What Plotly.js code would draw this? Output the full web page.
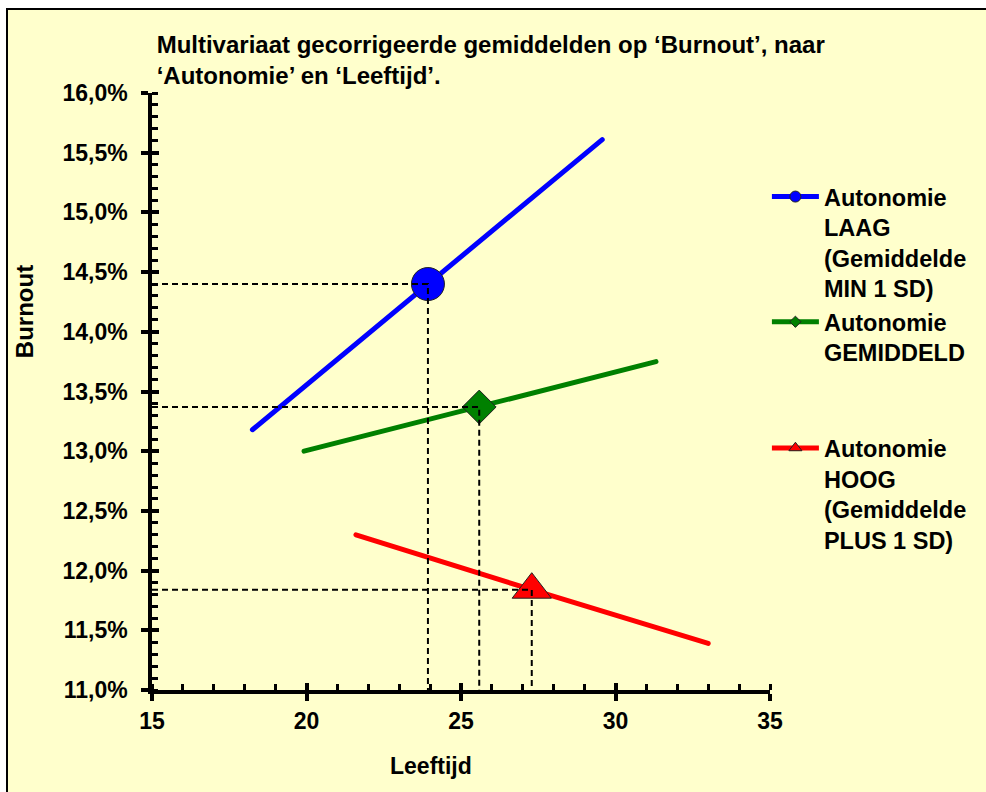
<!DOCTYPE html>
<html>
<head>
<meta charset="utf-8">
<script src="https://cdn.plot.ly/plotly-3.0.1.min.js"></script>
<style>
  html, body { margin: 0; padding: 0; background: #ffffff; width: 986px; height: 792px; overflow: hidden; }
  #frame { position: absolute; left: 6px; top: 8px; border-top: 2px solid #000; border-left: 2px solid #000; }
  #chart { width: 978px; height: 782px; }
  #chart .scatterlayer .trace:nth-child(-n+3) .js-line { stroke-linecap: round; }
</style>
</head>
<body>
<div id="frame"><div id="chart"></div></div>
<script>
// ---- data ----
const seriesNames = [
  'Autonomie<br>LAAG<br>(Gemiddelde<br>MIN 1 SD)',
  'Autonomie<br>GEMIDDELD',
  'Autonomie<br>HOOG<br>(Gemiddelde<br>PLUS 1 SD)'
];
// Leeftijd: line start, adjusted mean point, line end
const leeftijdLaag = [18.25, 23.93, 29.57];
const leeftijdGem  = [19.92, 25.59, 31.31];
const leeftijdHoog = [21.60, 27.29, 33.00];
// Burnout (%)
const burnoutLaag = [13.18, 14.40, 15.61];
const burnoutGem  = [13.00, 13.37, 13.75];
const burnoutHoog = [12.30, 11.84, 11.39];
const colors  = ['#0000ff', '#008000', '#ff0000'];
const symbols = ['circle', 'diamond', 'triangle-up'];
const markerSizes = [33, 26, 34];
const xRange = [15, 35];
const yRange = [11, 16];
const titleText = 'Multivariaat gecorrigeerde gemiddelden op ‘Burnout’, naar<br>‘Autonomie’ en ‘Leeftijd’.';

const FONT = 'Liberation Sans, Arial, Helvetica, sans-serif';
const xs = [leeftijdLaag, leeftijdGem, leeftijdHoog];
const ys = [burnoutLaag, burnoutGem, burnoutHoog];

const traces = [];
for (let i = 0; i < 3; i++) {
  traces.push({
    type: 'scatter', mode: 'lines+markers',
    x: xs[i], y: ys[i], name: seriesNames[i],
    legend: i === 2 ? 'legend2' : 'legend',
    legendgroup: 'g' + i,
    line: { color: colors[i], width: 5 },
    marker: { symbol: symbols[i], size: [0, markerSizes[i], 0], opacity: 1, color: colors[i], line: { color: '#222', width: 1 } },
    hoverinfo: 'x+y'
  });
}
// dashed reference lines from the axes to each mean point
for (let i = 0; i < 3; i++) {
  traces.push({
    type: 'scatter', mode: 'lines', showlegend: false, hoverinfo: 'skip',
    x: [xRange[0], xs[i][1], xs[i][1]],
    y: [ys[i][1], ys[i][1], yRange[0]],
    line: { color: '#000', width: 2, dash: '6px,4px' }
  });
}
// empty trace to carry the overlay axes (inner halves of the major ticks)
traces.push({ type: 'scatter', x: [], y: [], xaxis: 'x2', yaxis: 'y2', showlegend: false, hoverinfo: 'skip' });

const tickFont = { family: FONT, size: 23, color: '#000', weight: 'bold' };
const legendFont = { family: FONT, size: 23.5, weight: 'bold', color: '#000' };
const layout = {
  width: 978, height: 782,
  margin: { l: 144, r: 216, t: 83, b: 102 },
  paper_bgcolor: '#ffffcc', plot_bgcolor: '#ffffcc',
  separators: ',.',
  font: { family: FONT, color: '#000' },
  title: {
    text: titleText, xref: 'container', yref: 'container',
    x: 0.152, xanchor: 'left', y: 0.945, yanchor: 'top',
    font: { family: FONT, size: 24, weight: 'bold', color: '#000' }
  },
  xaxis: {
    range: xRange, dtick: 5, tick0: 15, showgrid: false, zeroline: false,
    showline: true, linecolor: '#000', linewidth: 3.5,
    ticks: 'outside', ticklen: 7, tickwidth: 3.5, tickcolor: '#000',
    minor: { ticks: 'inside', dtick: 1, ticklen: 6, tickwidth: 3, tickcolor: '#000', showgrid: false },
    tickfont: tickFont, ticklabelstandoff: 1
  },
  yaxis: {
    range: yRange, dtick: 0.5, tick0: 11, showgrid: false, zeroline: false,
    showline: true, linecolor: '#000', linewidth: 3.5,
    ticks: 'outside', ticklen: 7, tickwidth: 3.5, tickcolor: '#000',
    minor: { ticks: 'inside', dtick: 0.1, ticklen: 6, tickwidth: 3, tickcolor: '#000', showgrid: false },
    tickformat: '.1f', ticksuffix: '%',
    tickfont: tickFont, ticklabelstandoff: 9
  },
  xaxis2: {
    overlaying: 'x', anchor: 'y2', range: xRange, dtick: 5, tick0: 15,
    showgrid: false, zeroline: false, showline: false, showticklabels: false,
    ticks: 'inside', ticklen: 7, tickwidth: 3.5, tickcolor: '#000'
  },
  yaxis2: {
    overlaying: 'y', anchor: 'x2', range: yRange, dtick: 0.5, tick0: 11,
    showgrid: false, zeroline: false, showline: false, showticklabels: false,
    ticks: 'inside', ticklen: 7, tickwidth: 3.5, tickcolor: '#000'
  },
  legend: {
    x: 0.995, xanchor: 'left', y: 0.863, yanchor: 'top',
    bgcolor: 'rgba(0,0,0,0)', borderwidth: 0, valign: 'top',
    itemwidth: 47, tracegroupgap: 0,
    font: legendFont
  },
  legend2: {
    x: 0.995, xanchor: 'left', y: 0.442, yanchor: 'top',
    bgcolor: 'rgba(0,0,0,0)', borderwidth: 0, valign: 'top',
    itemwidth: 47,
    font: legendFont
  },
  annotations: [
    { text: 'Burnout', xref: 'paper', yref: 'paper', x: -0.207, y: 0.633,
      xanchor: 'center', yanchor: 'middle', textangle: -90, showarrow: false,
      font: { family: FONT, size: 24, weight: 'bold', color: '#000' } },
    { text: 'Leeftijd', xref: 'paper', yref: 'paper', x: 0.451, y: -0.127,
      xanchor: 'center', yanchor: 'middle', showarrow: false,
      font: { family: FONT, size: 23, weight: 'bold', color: '#000' } }
  ],
  showlegend: true
};

Plotly.newPlot('chart', traces, layout, { displayModeBar: false });
</script>
</body>
</html>
